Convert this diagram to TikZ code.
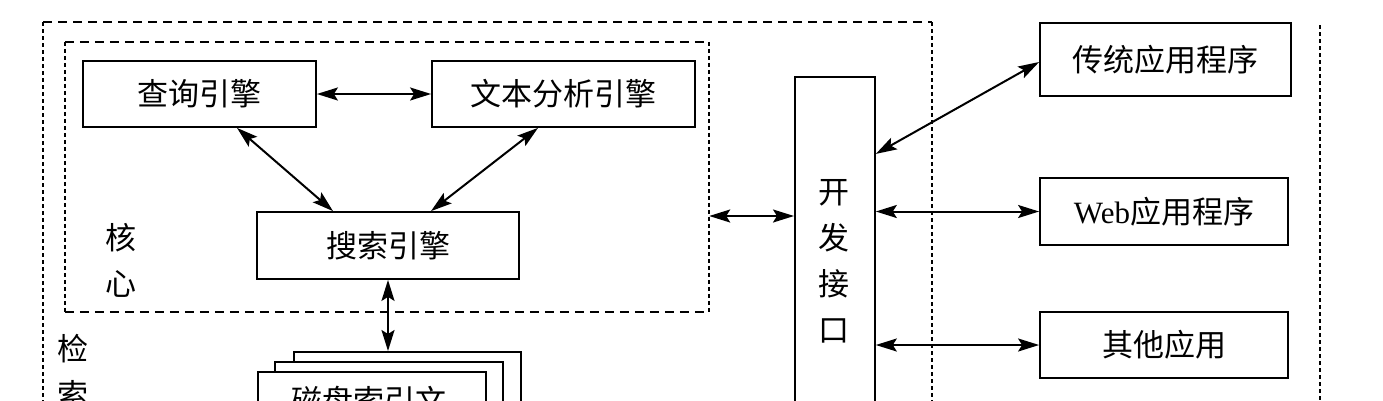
\documentclass[tikz,border=0pt]{standalone}
\usepackage{fontspec}
\setmainfont{Liberation Serif}
\newfontfamily\cjk{Noto Sans CJK SC}
\usetikzlibrary{arrows.meta,calc}
\begin{document}
\begin{tikzpicture}[x=1pt,y=-1pt,
  box/.style={draw, line width=1.8pt, inner sep=0pt, font=\cjk\fontsize{31}{46}\selectfont},
  lab/.style={inner sep=0pt, font=\cjk\fontsize{31}{46}\selectfont, align=center},
  tip/.tip={Stealth[length=21pt,width=13pt,inset=4pt]},
  arr/.style={line width=2pt, tip-tip},
  hdash/.style={line width=1.8pt, dash pattern=on 9pt off 6pt},
  vdash/.style={line width=1.8pt, dash pattern=on 4pt off 3pt}]
\useasboundingbox (0,0) rectangle (1383,400);
\fill[white] (0,0) rectangle (1383,400);
\clip (0,0) rectangle (1383,400);

% outer dashed boundary and right dotted line
\draw[hdash] (43,22) -- (932,22);
\draw[vdash] (43,22) -- (43,480);
\draw[vdash] (932,22) -- (932,480);
\draw[vdash] (1320,25) -- (1320,480);

% core region
\node[minimum width=644, minimum height=270, inner sep=0pt] (core) at (387,177) {};
\draw[hdash] (core.north west) -- (core.north east);
\draw[hdash] (core.south west) -- (core.south east);
\draw[vdash] (core.north west) -- (core.south west);
\draw[vdash] (core.north east) -- (core.south east);

\node[box, minimum width=233, minimum height=66] (q) at (199.5,94) {查询引擎};
\node[box, minimum width=263, minimum height=66] (t) at (563.5,94) {文本分析引擎};
\node[box, minimum width=262, minimum height=67] (s) at (388,245.5) {搜索引擎};
\node[lab] (hx) at (121,260) {核\\心};
\node[lab] (js) at (73,372) {检\\索};

% disk index files
\node[box, fill=white, minimum width=227, minimum height=120, anchor=north west] (d3) at (293,351) {};
\node[box, fill=white, minimum width=228, minimum height=120, anchor=north west] (d2) at (274,361) {};
\node[box, fill=white, minimum width=228, minimum height=120, anchor=north west] (d1) at (257,371) {};
\node[lab, anchor=west] (dt) at (291,401) {磁盘索引文};

% API
\node[box, minimum width=80, minimum height=404, anchor=north west] (api) at (794,76) {};
\node[lab] (apit) at (834,261) {开\\发\\接\\口};

% applications
\node[box, minimum width=251, minimum height=73] (t1) at (1165.5,59.5) {传统应用程序};
\node[box, minimum width=248, minimum height=67] (w) at (1164,211.5) {{\rmfamily Web}应用程序};
\node[box, minimum width=248, minimum height=66] (o) at (1164,345) {其他应用};

% connectors
\draw[arr] (q.east) -- (t.west);
\draw[arr] ([xshift=37.5pt]q.south) -- ([xshift=-55pt]s.north);
\draw[arr] ([xshift=-25.5pt]t.south) -- ([xshift=43pt]s.north);
\draw[arr] (s.south) -- (s.south |- d3.north);
\draw[arr] ([yshift=-39pt]core.east) -- ([yshift=-39pt]core.east -| api.west);
\draw[arr] ([yshift=125pt]api.east) -- ([yshift=-2.5pt]t1.west);
\draw[arr] (api.east |- w.west) -- (w.west);
\draw[arr] (api.east |- o.west) -- (o.west);
\end{tikzpicture}
\end{document}
